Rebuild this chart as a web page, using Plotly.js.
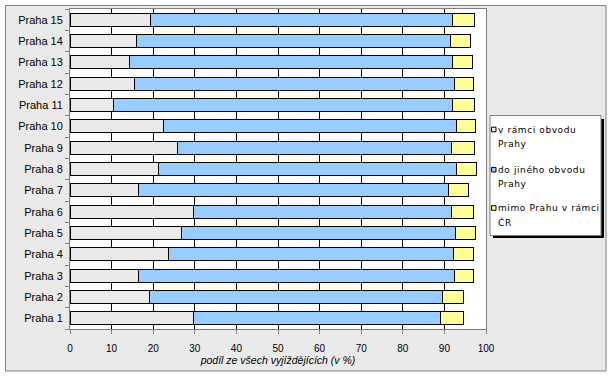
<!DOCTYPE html>
<html><head><meta charset="utf-8">
<script src="https://cdn.plot.ly/plotly-3.0.1.min.js"></script>
<style>html,body{margin:0;padding:0;background:#fff}
.annotation-text{letter-spacing:0.6px}</style>
</head><body>
<div id="chart" style="width:613px;height:377px"></div>
<script>
const districts = ["Praha 1","Praha 2","Praha 3","Praha 4","Praha 5","Praha 6","Praha 7","Praha 8","Praha 9","Praha 10","Praha 11","Praha 12","Praha 13","Praha 14","Praha 15"];
const withinDistrict = [29.8,19.1,16.4,23.7,26.8,29.7,16.4,21.3,25.8,22.4,10.4,15.6,14.4,16.1,19.3];
const otherDistrict  = [59.2,70.4,76.0,68.4,65.9,62.0,74.6,71.6,65.9,70.5,81.5,76.8,77.5,75.3,72.6];
const outsidePrague  = [5.5,5.0,4.5,4.8,4.8,5.2,4.8,4.8,5.5,4.6,5.3,4.6,4.9,4.9,5.3];
const seriesNames = ["v rámci obvodu Prahy","do jiného obvodu Prahy","mimo Prahu v rámci ČR"];
const legendLines = [["v rámci obvodu","Prahy"],["do jiného obvodu","Prahy"],["mimo Prahu v rámci","ČR"]];
const seriesColors = ["#EAEAEA","#99CCFF","#FFFF99"];
const xTicks = [0,10,20,30,40,50,60,70,80,90,100];
const xTitle = "podíl ze všech vyjíždějících (v %)";

const seriesValues = [withinDistrict, otherDistrict, outsidePrague];
const traces = seriesValues.map((vals,i)=>({
  type:'bar', orientation:'h', y:districts, x:vals, name:seriesNames[i],
  marker:{color:seriesColors[i], line:{color:'#000', width:1}},
  hoverinfo:'x+y+name'
}));

// pixel helpers (plot area: x 70..486, y 9..329)
const W=416, H=320, L=70, T=9;
const px = v => (v-L)/W;
const py = v => (T+H-v)/H;

const shapes = [
  {type:'rect', xref:'paper', yref:'paper', layer:'below', x0:px(5.5), x1:px(606), y0:py(371), y1:py(5.5), fillcolor:'#EAEAEA', line:{color:'#808080', width:1}},
  {type:'rect', xref:'paper', yref:'paper', layer:'below', x0:0, x1:1, y0:0, y1:1, fillcolor:'#FFFFFF', line:{width:0}},
  // legend shadow + box
  {type:'rect', xref:'paper', yref:'paper', x0:px(493), x1:px(604), y0:py(238), y1:py(119), fillcolor:'#000', line:{width:0}},
  {type:'rect', xref:'paper', yref:'paper', x0:px(490), x1:px(601), y0:py(235.5), y1:py(115.5), fillcolor:'#FFFFFF', line:{color:'#808080', width:1}}
];
const annotations = [];
const entryY = [129.5, 169.7, 208];
legendLines.forEach((lines,i)=>{
  shapes.push({type:'rect', xref:'paper', yref:'paper', x0:px(491.5), x1:px(496), y0:py(entryY[i]+2.3), y1:py(entryY[i]-2.3), fillcolor:seriesColors[i], line:{color:'#000', width:1}});
  lines.forEach((t,j)=>{
    annotations.push({xref:'paper', yref:'paper', x:px(496), y:py(entryY[i]+j*14.5), xanchor:'left', yanchor:'middle', showarrow:false, text:t, font:{family:'DejaVu Sans', size:9, color:'#000'}});
  });
});

const FONT = '"Liberation Sans", Arial, sans-serif';
const layout = {
  width:613, height:377,
  margin:{l:L, r:613-486, t:T, b:377-329, pad:0},
  paper_bgcolor:'#FFFFFF', plot_bgcolor:'#FFFFFF',
  barmode:'stack', bargap:0.39, showlegend:false,
  font:{family:FONT, size:11, color:'#000'},
  xaxis:{range:[0,100], tickvals:xTicks, ticktext:xTicks.map(String), ticks:'outside', ticklen:4, tickcolor:'#808080',
    showgrid:true, gridcolor:'#000', gridwidth:1, zeroline:false, showline:true, linecolor:'#808080', linewidth:1, mirror:true,
    tickfont:{family:FONT, size:10}, ticklabelstandoff:6,
    title:{text:'<i>'+xTitle+'</i>', font:{family:FONT, size:10.5}, standoff:2}},
  yaxis:{type:'category', tickson:'boundaries', ticks:'outside', ticklen:4, tickcolor:'#808080', showgrid:false, zeroline:false,
    showline:true, linecolor:'#808080', linewidth:1, mirror:true, tickfont:{family:FONT, size:11}, ticklabelstandoff:4},
  shapes:shapes, annotations:annotations
};
Plotly.newPlot('chart', traces, layout, {displayModeBar:false, staticPlot:true});
</script>
</body></html>
